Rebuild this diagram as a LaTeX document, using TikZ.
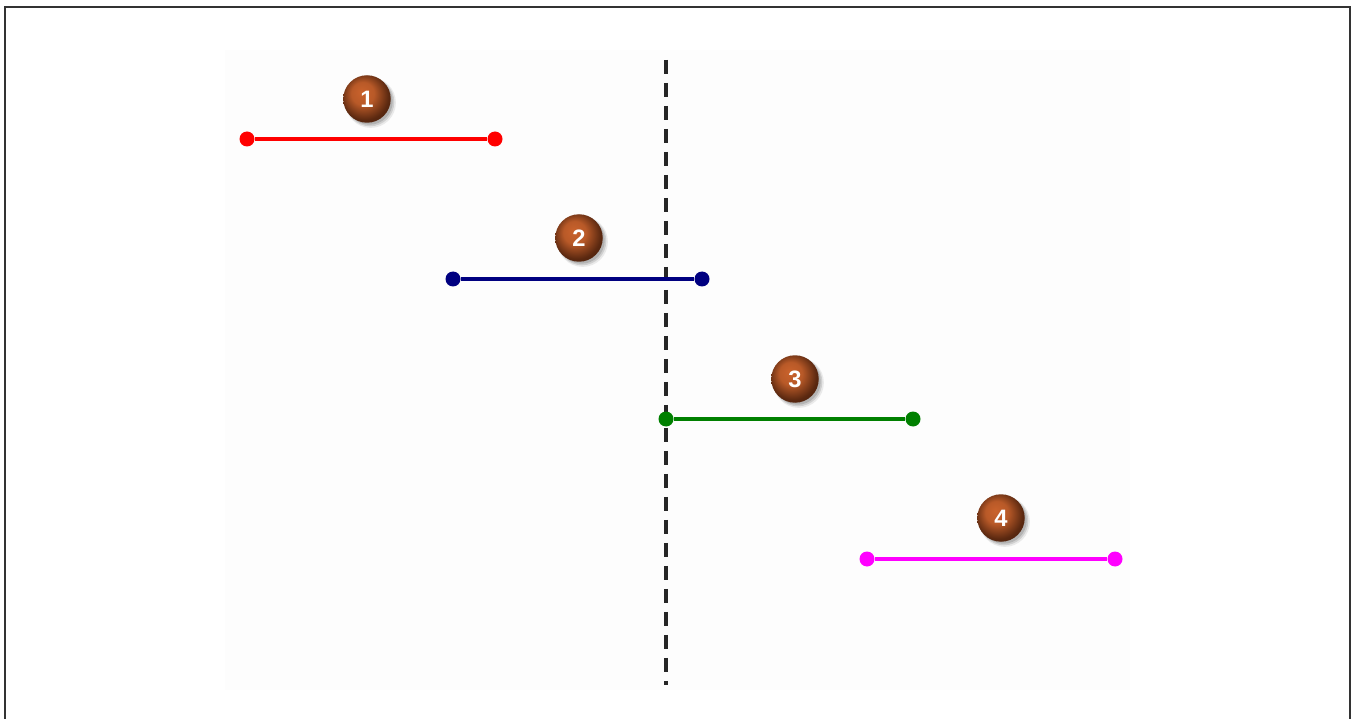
\documentclass[tikz,border=0pt]{standalone}
\usepackage{fontspec}
\setsansfont{Liberation Sans}
\usetikzlibrary{shadows}
\definecolor{segnavy}{HTML}{000080}
\definecolor{seggreen}{HTML}{008000}
\definecolor{segmagenta}{HTML}{FF00FF}
\definecolor{ballrim}{HTML}{5A2810}
\definecolor{ballcore}{HTML}{C9622C}
\pgfdeclareradialshading{ballshade}{\pgfpoint{-0.22cm}{0.28cm}}{%
  color(0cm)=(ballcore); color(0.42cm)=(ballcore!85!ballrim);
  color(0.9cm)=(ballrim); color(1.3cm)=(ballrim!70!black); color(1.6cm)=(ballrim!70!black)}
\begin{document}
\begin{tikzpicture}[
    endpt/.style={circle, inner sep=0pt, minimum size=0.3cm},
    seg/.style={line width=1.9pt},
    ball/.style={circle, inner sep=0pt, minimum size=0.95cm, shading=ballshade,
      text=white, font=\sffamily\bfseries\fontsize{13.5}{16}\selectfont,
      drop shadow={shadow xshift=0.07cm, shadow yshift=-0.07cm, shadow scale=1.06, opacity=0.15},
      drop shadow={shadow xshift=0.06cm, shadow yshift=-0.06cm, shadow scale=1.02, opacity=0.25},
      drop shadow={shadow xshift=0.05cm, shadow yshift=-0.05cm, shadow scale=0.98, opacity=0.35}},
  ]
  \useasboundingbox (0,0) rectangle (27.04,-14.38);
  \fill[white] (0,0) rectangle (27.04,-14.38);
  \draw[black!80, line width=1.1pt] (0.10,-15) -- (0.10,-0.14) -- (27.00,-0.14) -- (27.00,-15);
  \clip (0,0) rectangle (27.04,-14.38);

  % faint backing of the plot area
  \fill[black!0.6] (4.50,-1.00) rectangle (22.60,-13.80);

  % dashed divider
  \coordinate (divtop) at (13.32,-1.20);
  \coordinate (divbot) at (13.32,-13.70);
  \draw[black!85, line width=2pt, dash pattern=on 0.29cm off 0.17cm] (divtop) -- (divbot);

  % segments with end points
  \foreach \nm/\xa/\xb/\yy/\cc in {a/4.94/9.90/-2.78/red, b/9.06/14.04/-5.58/segnavy,
                                   c/13.32/18.26/-8.38/seggreen, d/17.34/22.30/-11.18/segmagenta}{
    \node[endpt, fill=\cc] (\nm l) at (\xa,\yy) {};
    \node[endpt, fill=\cc] (\nm r) at (\xb,\yy) {};
    \draw[seg, \cc] (\nm l) -- (\nm r);
  }

  % numbered balls
  \node[ball] (ball1) at (7.34,-1.98) {1};
  \node[ball] (ball2) at (11.58,-4.76) {2};
  \node[ball] (ball3) at (15.90,-7.58) {3};
  \node[ball] (ball4) at (20.02,-10.36) {4};
\end{tikzpicture}
\end{document}
